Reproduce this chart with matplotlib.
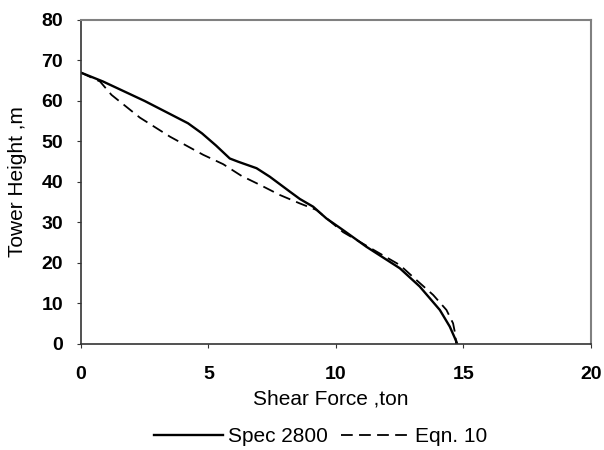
import numpy as np
import matplotlib.pyplot as plt

plt.rcParams['font.family'] = ['Liberation Sans', 'DejaVu Sans']

# Spec 2800 curve (shear force in ton, tower height in m)
spec_x = [0.0, 0.87, 2.5, 3.49, 4.2, 4.75, 5.3, 5.84, 6.17, 6.89, 7.41, 8.2, 8.59, 9.11, 9.63,
          10.29, 11.2, 12.51, 13.29, 14.08, 14.47, 14.73, 14.76]
spec_y = [67.0, 64.8, 60.0, 56.8, 54.5, 52.0, 49.0, 45.8, 45.0, 43.4, 41.3, 37.6, 35.8, 33.9, 31.0,
          28.1, 24.0, 18.7, 14.2, 8.4, 4.3, 0.6, 0.0]

# Eqn. 10 curve
eqn_x = [0.0, 0.75, 1.2, 2.31, 3.49, 4.8, 5.58, 6.3, 7.02, 7.8, 8.59, 9.24, 10.29, 11.6,
         12.51, 13.16, 13.82, 14.34, 14.6, 14.68, 14.72]
eqn_y = [67.0, 64.8, 61.5, 55.9, 51.2, 46.7, 44.4, 41.5, 39.3, 36.8, 34.7, 33.1, 27.6, 22.8,
         19.5, 15.8, 12.1, 8.4, 5.1, 2.6, 0.0]

fig = plt.figure(figsize=(6.04, 4.5), dpi=100)
ax = fig.add_axes([0.134, 0.2356, 0.844, 0.72])

ax.plot(spec_x, spec_y, color='black', lw=1.7, label='Spec 2800')
ax.plot(eqn_x, eqn_y, color='black', lw=1.3, ls=(0, (6.5, 3.5)), label='Eqn. 10')

ax.set_xlim(0, 20)
ax.set_ylim(0, 80)
ax.set_xticks(np.arange(0, 21, 5))
ax.set_yticks(np.arange(0, 81, 10))
for lbl in ax.get_xticklabels() + ax.get_yticklabels():
    lbl.set_fontweight('bold')
ax.tick_params(labelsize=14, direction='out', length=3, color='#333333')
ax.tick_params(axis='x', pad=13)
ax.tick_params(axis='y', pad=10)

for s in ['top', 'right']:
    ax.spines[s].set_color('#808080')
    ax.spines[s].set_linewidth(1.5)
for s in ['left', 'bottom']:
    ax.spines[s].set_color('#333333')
    ax.spines[s].set_linewidth(1.2)

ax.set_xlabel('Shear Force ,ton', fontsize=15)
ax.set_ylabel('Tower Height ,m', fontsize=15)
ax.xaxis.set_label_coords(0.49, -0.14)
ax.yaxis.set_label_coords(-0.106, 0.5)

fig.legend(loc='center', bbox_to_anchor=(0.531, 0.03), ncol=2, frameon=False,
           fontsize=15, handlelength=3.3, handletextpad=0.25, columnspacing=0.6)

fig.savefig('out.png', dpi=100)
